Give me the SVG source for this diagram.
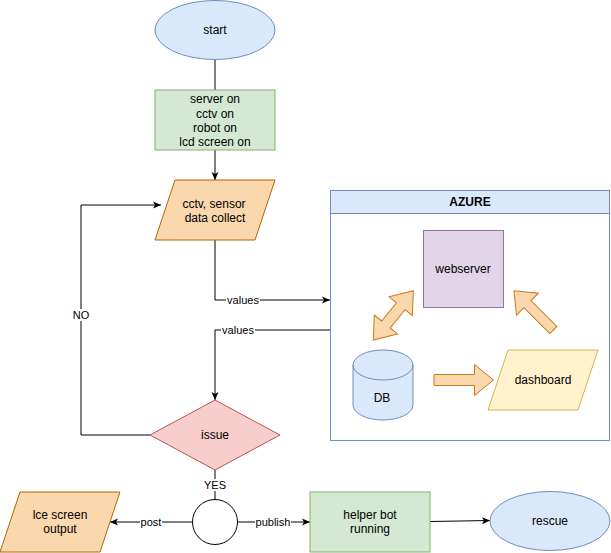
<svg xmlns="http://www.w3.org/2000/svg" width="611" height="553" viewBox="0 0 611 553">
<style>
text{font-family:"Liberation Sans",Arial,Helvetica,sans-serif;font-size:12px;fill:#000;text-anchor:middle}
.lbl{font-size:11px}
.b{font-weight:bold}
.edge{fill:none;stroke:#000;stroke-width:1}
.blue{fill:#dae8fc;stroke:#6c8ebf}
.green{fill:#d5e8d4;stroke:#82b366}
.orange{fill:#fad7ac;stroke:#b46504}
.red{fill:#f8cecc;stroke:#b85450}
.yellow{fill:#fff2cc;stroke:#d6b656}
.purple{fill:#e1d5e7;stroke:#9673a6}
.barrow{fill:#fad7ac;stroke:#c97a1a;stroke-width:1}
.bg{fill:#fff}
</style>
<defs>
<marker id="arr" markerUnits="userSpaceOnUse" viewBox="0 0 8 8" markerWidth="8" markerHeight="8" refX="8" refY="4" orient="auto">
<path d="M0,0.5 L8,4 L0,7.5 L2,4 Z" fill="#000"/>
</marker>
</defs>
<rect width="611" height="553" fill="#fff"/>

<g id="connectors">
<path class="edge" d="M215,60 L215,90"/>
<path class="edge" d="M215,150 L215,180" marker-end="url(#arr)"/>
<path class="edge" d="M215,240 L215,300 L330,300" marker-end="url(#arr)"/>
<path class="edge" d="M330,330 L215,330 L215,400" marker-end="url(#arr)"/>
<path class="edge" d="M150,435 L81,435 L81,205 L161,205" marker-end="url(#arr)"/>
<path class="edge" d="M215,470 L215,500"/>
<path class="edge" d="M192.5,522 L110,522" marker-end="url(#arr)"/>
<path class="edge" d="M237.5,522 L310,522" marker-end="url(#arr)"/>
<path class="edge" d="M430,521.5 L490,520.5" marker-end="url(#arr)"/>
<rect class="bg" x="226" y="294" width="34" height="12"/>
<text class="lbl" x="243" y="304">values</text>
<rect class="bg" x="221" y="324" width="34" height="12"/>
<text class="lbl" x="238" y="334">values</text>
<rect class="bg" x="72" y="309" width="18" height="12"/>
<text class="lbl" x="81" y="319">NO</text>
<rect class="bg" x="203" y="479" width="24" height="12"/>
<text class="lbl" x="215" y="489">YES</text>
<rect class="bg" x="140" y="516" width="22" height="12"/>
<text class="lbl" x="151" y="526">post</text>
<rect class="bg" x="255" y="516" width="36" height="12"/>
<text class="lbl" x="273" y="526">publish</text>
</g>

<g id="start">
<ellipse class="blue" cx="215" cy="30" rx="60" ry="29.5"/>
<text x="215" y="34">start</text>
</g>
<g id="power-on">
<rect class="green" x="155" y="90" width="120" height="60"/>
<text x="215" y="103">server on</text>
<text x="215" y="117.5">cctv on</text>
<text x="215" y="132">robot on</text>
<text x="215" y="146">lcd screen on</text>
</g>
<g id="data-collect">
<polygon class="orange" points="175,180 275,180 255,240 155,240"/>
<text x="214" y="207.5">cctv, sensor</text>
<text x="215" y="222">data collect</text>
</g>
<g id="issue">
<polygon class="red" points="215,400 280,435 215,470 150,435"/>
<text x="215" y="439">issue</text>
</g>
<g id="junction">
<circle cx="215" cy="522" r="22.5" fill="#fff" stroke="#000"/>
</g>
<g id="lcd-output">
<polygon class="orange" points="20,492 120,492 100,552 0,552"/>
<text x="60" y="518.5">lce screen</text>
<text x="60" y="533">output</text>
</g>
<g id="helper-bot">
<rect class="green" x="310" y="492" width="120" height="60"/>
<text x="370" y="518.5">helper bot</text>
<text x="370" y="533">running</text>
</g>
<g id="rescue">
<ellipse class="blue" cx="550" cy="521" rx="60" ry="29.5"/>
<text x="550" y="525">rescue</text>
</g>

<g id="azure">
<rect x="330.5" y="190.5" width="279" height="250" fill="#fff" stroke="#6c8ebf"/>
<rect class="blue" x="330.5" y="190.5" width="279" height="23"/>
<text class="b" x="470" y="206">AZURE</text>
<g id="webserver">
<rect class="purple" x="423.5" y="230.5" width="80" height="77"/>
<text x="463" y="272.5">webserver</text>
</g>
<g id="db">
<path class="blue" d="M353,365 A30,15 0 0 1 413,365 L413,405 A30,15 0 0 1 353,405 Z"/>
<path fill="none" stroke="#6c8ebf" d="M353,365 A30,15 0 0 0 413,365"/>
<text x="382" y="402">DB</text>
</g>
<g id="dashboard">
<polygon class="yellow" points="508,350 598,350 578,410 488,410"/>
<text x="543" y="384">dashboard</text>
</g>
<g id="arrow-db-dashboard">
<polygon class="barrow" points="434,374.5 474.5,374.5 474.5,364.5 493.5,380 474.5,395.5 474.5,385.5 434,385.5"/>
</g>
<g id="arrow-db-webserver">
<polygon class="barrow" transform="translate(373.3,340) rotate(-50.9)" points="0,0 20,-15 20,-5.5 43.5,-5.5 43.5,-15 63.5,0 43.5,15 43.5,5.5 20,5.5 20,15"/>
</g>
<g id="arrow-dashboard-webserver">
<polygon class="barrow" transform="translate(553.3,330) rotate(-135)" points="0,-5 36.6,-5 36.6,-15.5 55.6,0 36.6,15.5 36.6,5 0,5"/>
</g>
</g>
</svg>
